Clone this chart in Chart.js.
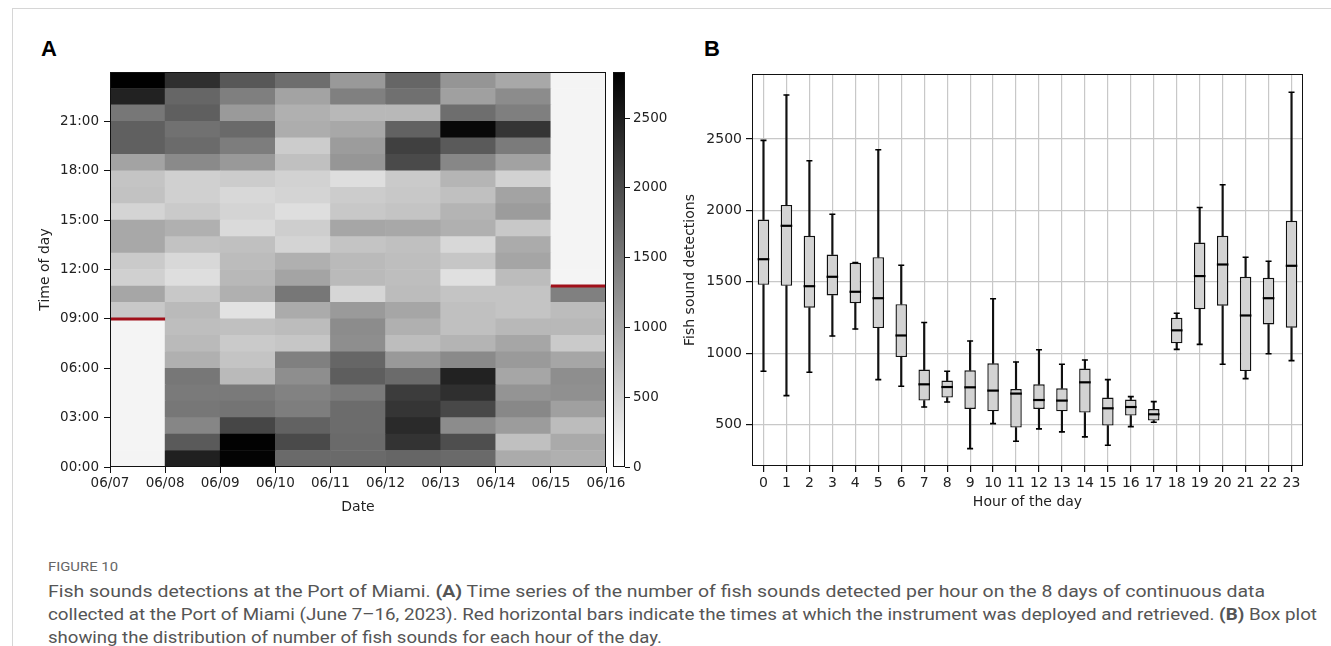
<!DOCTYPE html>
<html>
<head>
<meta charset="utf-8">
<script src="https://cdn.jsdelivr.net/npm/chart.js@4.4.1/dist/chart.umd.min.js"></script>
<style>
  html, body { margin: 0; padding: 0; background: #fff; }
  body { width: 1331px; height: 646px; position: relative; overflow: hidden; }
  .edge { position: absolute; left: 12px; top: 8px; right: 0; bottom: 0; border-left: 1px solid #d6d6d6; border-top: 1px solid #d6d6d6; }
  .letter { position: absolute; font: bold 22px "Liberation Sans", Arial, sans-serif; line-height: 1; color: #000; }
  canvas { position: absolute; }
  .fig, .cap { position: absolute; left: 48px; white-space: nowrap; line-height: 1; transform-origin: 0 50%; }
  .fig { top: 559px; font: 13px "Roboto", sans-serif; color: #666; }
  .cap { font: 16px "Roboto", "Noto Sans", sans-serif; color: #555; }
</style>
</head>
<body>
<div class="edge"></div>
<div class="letter" style="left:41px; top:38px;">A</div>
<div class="letter" style="left:704px; top:38px;">B</div>

<canvas id="heat" width="640" height="480" style="left:0; top:50px;"></canvas>
<canvas id="cbar" width="80" height="480" style="left:600px; top:50px;"></canvas>
<canvas id="box" width="660" height="480" style="left:670px; top:50px;"></canvas>

<div class="fig" data-w="70">FIGURE 10</div>
<div class="cap" data-w="1217" style="top:582px;">Fish sounds detections at the Port of Miami. <b>(A)</b> Time series of the number of fish sounds detected per hour on the 8 days of continuous data</div>
<div class="cap" data-w="1269" style="top:605px;">collected at the Port of Miami (June 7–16, 2023). Red horizontal bars indicate the times at which the instrument was deployed and retrieved. <b>(B)</b> Box plot</div>
<div class="cap" data-w="614" style="top:628px;">showing the distribution of number of fish sounds for each hour of the day.</div>

<script>
// ---- panel A: detections per hour (index = hour 0..23), null = no recording
var days = ["06/07", "06/08", "06/09", "06/10", "06/11", "06/12", "06/13", "06/14", "06/15", "06/16"];
var hourTicks = [0, 3, 6, 9, 12, 15, 18, 21];

var d0607 = [null, null, null, null, null, null, null, null, null, 610, 990, 520, 590, 960, 960, 480, 680, 650, 1020, 1760, 1760, 1510, 2450, 2830];
var d0608 = [2480, 1830, 1340, 1510, 1480, 1510, 880, 770, 720, 770, 610, 370, 430, 680, 880, 590, 520, 520, 1300, 1640, 1580, 1780, 1700, 2310];
var d0609 = [2800, 2810, 2050, 1540, 1480, 770, 650, 590, 700, 320, 880, 790, 740, 700, 410, 480, 430, 570, 1130, 1440, 1650, 1120, 1420, 1850];
var d0610 = [1650, 2010, 1740, 1430, 1390, 1250, 1410, 630, 740, 930, 1510, 1010, 880, 480, 540, 370, 480, 500, 700, 570, 910, 880, 1020, 1610];
var d0611 = [1650, 1650, 1630, 1630, 1480, 1790, 1700, 1250, 1280, 1120, 450, 770, 770, 650, 990, 610, 570, 370, 1170, 1100, 960, 790, 1410, 1130];
var d0612 = [1700, 2260, 2360, 2240, 2160, 1640, 1130, 730, 880, 990, 740, 720, 720, 700, 960, 650, 610, 590, 2010, 2120, 1740, 790, 1590, 1700];
var d0613 = [1650, 1960, 1280, 2030, 2310, 2450, 1300, 830, 700, 700, 650, 340, 630, 430, 880, 830, 700, 820, 1330, 1830, 2740, 1610, 1050, 1180];
var d0614 = [930, 700, 1100, 1320, 1190, 990, 1120, 990, 790, 650, 650, 740, 1000, 930, 610, 1100, 1020, 500, 1030, 1470, 2240, 1420, 1280, 960];
var d0615 = [880, 940, 740, 1050, 1230, 1250, 990, 590, 790, 740, 1410, null, null, null, null, null, null, null, null, null, null, null, null, null];

var deployDay = 0, deployHour = 9;
var retrieveDay = 8, retrieveHour = 11;

var colorMax = 2830;
var colorTicks = [0, 500, 1000, 1500, 2000, 2500];

// ---- panel B: box statistics per hour of the day
var hourLabels = ["0", "1", "2", "3", "4", "5", "6", "7", "8", "9", "10", "11", "12", "13", "14", "15", "16", "17", "18", "19", "20", "21", "22", "23"];
var whiskLow  = [873, 703, 866, 1120, 1169, 815, 768, 623, 658, 332, 507, 383, 470, 449, 414, 355, 486, 516, 1027, 1062, 922, 822, 996, 948];
var q1        = [1479, 1472, 1318, 1404, 1350, 1176, 973, 668, 689, 609, 593, 479, 609, 593, 584, 493, 563, 528, 1069, 1308, 1332, 875, 1201, 1178];
var median    = [1658, 1892, 1469, 1535, 1430, 1385, 1124, 782, 763, 761, 738, 717, 672, 668, 796, 614, 623, 572, 1160, 1540, 1621, 1264, 1385, 1612];
var q3        = [1936, 2038, 1822, 1691, 1633, 1672, 1343, 885, 808, 880, 929, 749, 782, 754, 892, 689, 675, 609, 1248, 1775, 1822, 1535, 1528, 1927];
var whiskHigh = [2490, 2808, 2348, 1973, 1635, 2425, 1616, 1215, 873, 1085, 1381, 938, 1024, 922, 952, 815, 696, 661, 1280, 2020, 2179, 1672, 1644, 2827];
var countTicks = [500, 1000, 1500, 2000, 2500];

Chart.defaults.font.family = "'DejaVu Sans', sans-serif";
Chart.defaults.color = "#222";

var frame = {
    id: "frame",
    afterDatasetsDraw: function(chart) {
        var a = chart.chartArea, ctx = chart.ctx;
        ctx.save();
        ctx.strokeStyle = "#111";
        ctx.lineWidth = 1;
        ctx.strokeRect(a.left + 0.5, a.top + 0.5, a.right - a.left - 1, a.bottom - a.top - 1);
        ctx.restore();
    }
};

function setTicks(list) {
    return function(scale) {
        scale.ticks = list.map(function(v) { return { value: v }; });
    };
}

function plain(v) { return String(v); }

function grayFor(v) {
    if (v === null) return "#f4f4f4";
    var g = Math.round(255 * (1 - Math.min(v, colorMax) / colorMax));
    return "rgb(" + g + "," + g + "," + g + ")";
}

// ---- heatmap
var heat = [d0607, d0608, d0609, d0610, d0611, d0612, d0613, d0614, d0615];
var heatSets = [];

heatSets.push({
    type: "line",
    data: [{ x: deployDay, y: deployHour }, { x: deployDay + 1, y: deployHour }],
    borderColor: "#a0101a", borderWidth: 3, pointRadius: 0
});
heatSets.push({
    type: "line",
    data: [{ x: retrieveDay, y: retrieveHour }, { x: retrieveDay + 1, y: retrieveHour }],
    borderColor: "#a0101a", borderWidth: 3, pointRadius: 0
});

for (var h = 0; h < 24; h++) {
    heatSets.push({
        type: "bar",
        grouped: false,
        barPercentage: 1,
        categoryPercentage: 1,
        borderWidth: 0,
        data: heat.map(function(col, i) { return { x: i + 0.5, y: [h, h + 1] }; }),
        backgroundColor: heat.map(function(col) { return grayFor(col[h]); })
    });
}

var axisFontA = { size: 13.5 };

new Chart(document.getElementById("heat"), {
    type: "bar",
    data: { datasets: heatSets },
    plugins: [frame],
    options: {
        responsive: false,
        animation: false,
        layout: { padding: { left: 0, right: 34, top: 22, bottom: 0 } },
        plugins: { legend: { display: false }, tooltip: { enabled: false } },
        scales: {
            x: {
                type: "linear", min: 0, max: 9, offset: false,
                afterBuildTicks: setTicks([0, 1, 2, 3, 4, 5, 6, 7, 8, 9]),
                afterFit: function(s) { s.height = 63; },
                ticks: { font: axisFontA, padding: 2, maxRotation: 0, callback: function(v) { return days[v]; } },
                grid: { offset: false, drawOnChartArea: false, tickLength: 6, color: "#111", tickColor: "#111" },
                border: { display: false },
                title: { display: true, text: "Date", font: { size: 14 }, padding: { top: 0, bottom: 14.6 } }
            },
            y: {
                type: "linear", min: 0, max: 24,
                afterBuildTicks: setTicks(hourTicks),
                afterFit: function(s) { s.width = 110; },
                ticks: {
                    font: axisFontA, padding: 5,
                    callback: function(v) { return (v < 10 ? "0" : "") + v + ":00"; }
                },
                grid: { drawOnChartArea: false, tickLength: 6, color: "#111", tickColor: "#111" },
                border: { display: false },
                title: { display: true, text: "Time of day", font: { size: 14 }, padding: { top: 36.6, bottom: 0 } }
            }
        }
    }
});

// ---- colour bar
new Chart(document.getElementById("cbar"), {
    type: "bar",
    data: {
        labels: ["scale"],
        datasets: [{
            data: [[0, colorMax]],
            borderWidth: 0,
            barPercentage: 1,
            categoryPercentage: 1,
            backgroundColor: function(c) {
                var a = c.chart.chartArea;
                if (!a) return "#888";
                var g = c.chart.ctx.createLinearGradient(0, a.bottom, 0, a.top);
                g.addColorStop(0, "#ffffff");
                g.addColorStop(1, "#000000");
                return g;
            }
        }]
    },
    plugins: [frame],
    options: {
        responsive: false,
        animation: false,
        layout: { padding: { left: 13, right: 0, top: 22, bottom: 63 } },
        plugins: { legend: { display: false }, tooltip: { enabled: false } },
        scales: {
            x: { display: false },
            y: {
                position: "right", min: 0, max: colorMax,
                afterBuildTicks: setTicks(colorTicks),
                afterFit: function(s) { s.width = 55; },
                ticks: { font: axisFontA, padding: 3, callback: plain },
                grid: { drawOnChartArea: false, tickLength: 5, color: "#111", tickColor: "#111" },
                border: { display: false }
            }
        }
    }
});

// ---- box plot
new Chart(document.getElementById("box"), {
    type: "bar",
    data: {
        labels: hourLabels,
        datasets: [
            {
                type: "line", data: median, showLine: false,
                pointStyle: "line", pointRadius: 5.8, pointBorderWidth: 2.2,
                pointBorderColor: "#000", pointBackgroundColor: "#000"
            },
            {
                type: "line", data: whiskHigh, showLine: false,
                pointStyle: "line", pointRadius: 3, pointBorderWidth: 1.6,
                pointBorderColor: "#000", pointBackgroundColor: "#000"
            },
            {
                type: "line", data: whiskLow, showLine: false,
                pointStyle: "line", pointRadius: 3, pointBorderWidth: 1.6,
                pointBorderColor: "#000", pointBackgroundColor: "#000"
            },
            {
                type: "bar", grouped: false,
                data: q1.map(function(v, i) { return [v, q3[i]]; }),
                backgroundColor: "#d3d3d3", borderColor: "#111", borderWidth: 1.4,
                borderSkipped: false, barPercentage: 0.5, categoryPercentage: 1
            },
            {
                type: "bar", grouped: false,
                data: q3.map(function(v, i) { return [v, whiskHigh[i]]; }),
                backgroundColor: "#111", borderWidth: 0, maxBarThickness: 1.5,
                barPercentage: 1, categoryPercentage: 1
            },
            {
                type: "bar", grouped: false,
                data: whiskLow.map(function(v, i) { return [v, q1[i]]; }),
                backgroundColor: "#111", borderWidth: 0, maxBarThickness: 1.5,
                barPercentage: 1, categoryPercentage: 1
            }
        ]
    },
    plugins: [frame],
    options: {
        responsive: false,
        animation: false,
        layout: { padding: { left: 0, right: 27, top: 24, bottom: 0 } },
        plugins: { legend: { display: false }, tooltip: { enabled: false } },
        scales: {
            x: {
                type: "category", offset: true,
                afterFit: function(s) { s.height = 64; },
                ticks: { font: { size: 14 }, padding: 3, maxRotation: 0, autoSkip: false },
                grid: { offset: false, color: "#c8c8c8", lineWidth: 1.2, tickLength: 6, tickColor: "#111" },
                border: { display: false },
                title: { display: true, text: "Hour of the day", font: { size: 14 }, padding: { top: 0, bottom: 19.6 } }
            },
            y: {
                type: "linear", min: 210, max: 2955,
                afterBuildTicks: setTicks(countTicks),
                afterFit: function(s) { s.width = 82; },
                ticks: { font: { size: 14 }, padding: 4, callback: plain },
                grid: { color: "#c8c8c8", lineWidth: 1.2, tickLength: 6, tickColor: "#111" },
                border: { display: false },
                title: { display: true, text: "Fish sound detections", font: { size: 14 }, padding: { top: 11.6, bottom: 0 } }
            }
        }
    }
});

// stretch each caption line to its printed width
document.querySelectorAll(".fig, .cap").forEach(function(el) {
    var k = Number(el.dataset.w) / el.getBoundingClientRect().width;
    el.style.transform = "scaleX(" + k + ")";
});
</script>
</body>
</html>
